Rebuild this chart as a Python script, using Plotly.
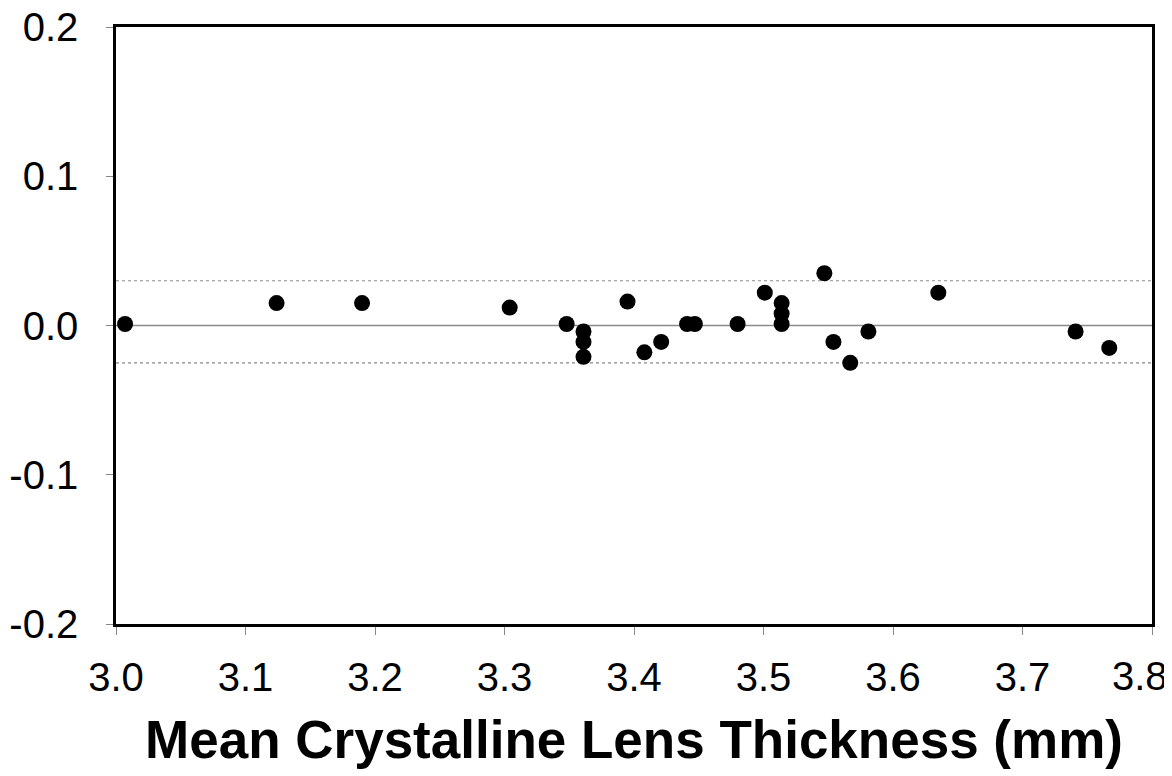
import plotly.graph_objects as go

# Data (Bland-Altman style plot)
mean_thickness = [3.007, 3.124, 3.190, 3.304, 3.348, 3.361, 3.361, 3.361, 3.395, 3.408,
                  3.421, 3.441, 3.447, 3.480, 3.501, 3.514, 3.514, 3.514, 3.547, 3.554,
                  3.567, 3.581, 3.635, 3.741, 3.767]
difference = [0.001, 0.015, 0.015, 0.012, 0.001, -0.004, -0.011, -0.021, 0.016, -0.018,
              -0.011, 0.001, 0.001, 0.001, 0.022, 0.015, 0.008, 0.001, 0.035, -0.011,
              -0.025, -0.004, 0.022, -0.004, -0.015]

mean_diff = 0.0
upper_limit = 0.030
lower_limit = -0.025
x_span = [3.0, 3.8]

x_ticks = [3.0, 3.1, 3.2, 3.3, 3.4, 3.5, 3.6, 3.7, 3.8]
x_ticktext = ["3.0", "3.1", "3.2", "3.3", "3.4", "3.5", "3.6", "3.7", "3.8"]
y_ticks = [-0.2, -0.1, 0.0, 0.1, 0.2]
y_ticktext = ["-0.2", "-0.1", "0.0", "0.1", "0.2"]

x_title = "Mean Crystalline Lens Thickness (mm)"

fig = go.Figure()

fig.add_trace(go.Scatter(x=x_span, y=[upper_limit] * 2, mode="lines",
                         line=dict(color="#8a8a8a", width=1.2, dash="dot"),
                         hoverinfo="skip", showlegend=False))
fig.add_trace(go.Scatter(x=x_span, y=[lower_limit] * 2, mode="lines",
                         line=dict(color="#8a8a8a", width=1.2, dash="dot"),
                         hoverinfo="skip", showlegend=False))
fig.add_trace(go.Scatter(x=x_span, y=[mean_diff] * 2, mode="lines",
                         line=dict(color="#8a8a8a", width=1.5),
                         hoverinfo="skip", showlegend=False))

fig.add_trace(go.Scatter(x=mean_thickness, y=difference, mode="markers",
                         marker=dict(color="black", size=16, symbol="circle"),
                         showlegend=False))

font_family = "Liberation Sans, Arial, sans-serif"

fig.update_layout(
    width=1164, height=768,
    margin=dict(l=108, r=20, t=19, b=152),
    paper_bgcolor="white", plot_bgcolor="white",
    font=dict(family=font_family, color="black"),
    showlegend=False,
)

# Last x tick label is drawn as an annotation, nudged left as in the reference,
# so that it stays inside the page.
shown_x_text = x_ticktext[:-1] + [""]
fig.add_annotation(
    x=x_ticks[-1], y=0, xref="x", yref="paper",
    text=x_ticktext[-1], showarrow=False,
    xanchor="center", yanchor="top", xshift=-12, yshift=-28,
    font=dict(size=40, family=font_family, color="black"),
)

fig.update_xaxes(
    range=x_span, tickvals=x_ticks, ticktext=shown_x_text,
    showgrid=False, zeroline=False, automargin=False,
    showline=True, linecolor="black", linewidth=2.5, mirror=True,
    ticks="outside", ticklen=8, tickwidth=1, tickcolor="#888888",
    tickfont=dict(size=40, family=font_family, color="black"),
    ticklabelstandoff=8, ticklabeloverflow="allow",
    title=dict(text="<b>" + x_title + "</b>",
               font=dict(size=53, family=font_family, color="black"),
               standoff=24),
)
fig.update_yaxes(
    range=[-0.2, 0.2], tickvals=y_ticks, ticktext=y_ticktext,
    showgrid=False, zeroline=False, automargin=False,
    showline=True, linecolor="black", linewidth=2.5, mirror=True,
    ticks="outside", ticklen=7, tickwidth=1, tickcolor="#888888",
    tickfont=dict(size=40, family=font_family, color="black"),
    ticklabelstandoff=20, ticklabeloverflow="allow",
)

fig.write_html("out.html")
